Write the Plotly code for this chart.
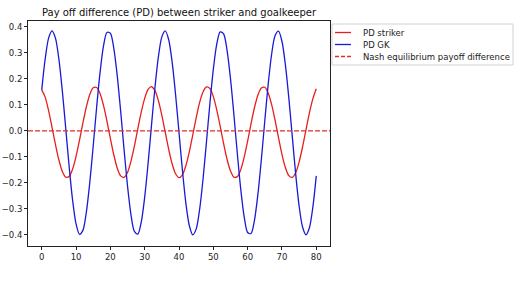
import plotly.graph_objects as go

# ---- data ----
steps = list(range(0, 81))

pd_striker = [
    0.158, 0.130, 0.078, 0.014, -0.052, -0.112, -0.156, -0.178, -0.175, -0.147,
    -0.098, -0.036, 0.031, 0.092, 0.140, 0.166, 0.167, 0.144, 0.098, 0.038,
    -0.029, -0.092, -0.143, -0.173, -0.179, -0.160, -0.117, -0.059, 0.008, 0.072,
    0.125, 0.160, 0.170, 0.155, 0.116, 0.060, -0.006, -0.071, -0.127, -0.165,
    -0.180, -0.169, -0.134, -0.081, -0.016, 0.050, 0.109, 0.150, 0.169, 0.163,
    0.132, 0.081, 0.018, -0.049, -0.109, -0.154, -0.178, -0.176, -0.149, -0.101,
    -0.039, 0.028, 0.090, 0.138, 0.165, 0.168, 0.145, 0.101, 0.041, -0.026,
    -0.090, -0.141, -0.172, -0.179, -0.161, -0.120, -0.062, 0.004, 0.069, 0.123,
    0.162,
]

pd_gk = [
    0.158, 0.276, 0.357, 0.385, 0.357, 0.276, 0.154, 0.009, -0.138, -0.267,
    -0.358, -0.398, -0.383, -0.313, -0.199, -0.058, 0.091, 0.225, 0.327, 0.379,
    0.376, 0.318, 0.213, 0.076, -0.073, -0.212, -0.322, -0.387, -0.397, -0.351,
    -0.255, -0.124, 0.024, 0.168, 0.286, 0.362, 0.385, 0.351, 0.265, 0.140,
    -0.006, -0.152, -0.278, -0.364, -0.400, -0.378, -0.303, -0.186, -0.043, 0.105,
    0.237, 0.334, 0.381, 0.373, 0.310, 0.201, 0.062, -0.088, -0.225, -0.331,
    -0.391, -0.395, -0.343, -0.243, -0.110, 0.039, 0.181, 0.296, 0.367, 0.384,
    0.345, 0.254, 0.127, -0.020, -0.166, -0.289, -0.370, -0.400, -0.373, -0.294,
    -0.173,
]

nash_value = 0.0

series_names = ["PD striker", "PD GK", "Nash equilibrium payoff difference"]
title_text = "Pay off difference (PD) between striker and goalkeeper"
x_ticks = [0, 10, 20, 30, 40, 50, 60, 70, 80]
y_ticks = [-0.4, -0.3, -0.2, -0.1, 0.0, 0.1, 0.2, 0.3, 0.4]

# ---- styles ----
RED = "rgb(232,30,30)"
BLUE = "rgb(25,25,215)"
NASH = "rgb(218,48,48)"
FONT = "DejaVu Sans"

W, H = 517, 282
ML, MR, MT, MB = 28, 187, 21, 36
PW = W - ML - MR
PH = H - MT - MB


def px_x(p):
    return (p - ML) / PW


def px_y(p):
    return (H - MB - p) / PH


fig = go.Figure()
fig.add_trace(go.Scatter(x=steps, y=pd_striker, mode="lines",
                         line=dict(color=RED, width=1.3, shape="spline",
                                   smoothing=0.8),
                         name=series_names[0], showlegend=False))
fig.add_trace(go.Scatter(x=steps, y=pd_gk, mode="lines",
                         line=dict(color=BLUE, width=1.3, shape="spline",
                                   smoothing=0.8),
                         name=series_names[1], showlegend=False))

# Nash equilibrium horizontal line spanning the full axes width
fig.add_shape(type="line", xref="paper", yref="y", x0=0, x1=1,
              y0=nash_value, y1=nash_value,
              line=dict(color=NASH, width=1.3, dash="5px,2px"))

# ---- manual legend (matplotlib style) ----
lg_left, lg_right, lg_top, lg_bottom = 332, 513, 24, 65
fig.add_shape(type="rect", xref="paper", yref="paper",
              x0=px_x(lg_left), x1=px_x(lg_right),
              y0=px_y(lg_bottom), y1=px_y(lg_top),
              line=dict(color="rgb(210,210,210)", width=1),
              fillcolor="rgba(255,255,255,0.8)", layer="above")
rows = [32.5, 44.5, 56.5]
styles = [(RED, "solid"), (BLUE, "solid"), (NASH, "4px,2px")]
for name, ry, (col, dash) in zip(series_names, rows, styles):
    fig.add_shape(type="line", xref="paper", yref="paper",
                  x0=px_x(335), x1=px_x(351), y0=px_y(ry), y1=px_y(ry),
                  line=dict(color=col, width=1.3, dash=dash), layer="above")
    fig.add_annotation(xref="paper", yref="paper", x=px_x(361), y=px_y(ry),
                       text=name, showarrow=False, xanchor="left",
                       yanchor="middle",
                       font=dict(family=FONT, size=8.5, color="#222"))

fig.update_layout(
    width=W, height=H,
    margin=dict(l=ML, r=MR, t=MT, b=MB, pad=0, autoexpand=False),
    paper_bgcolor="white", plot_bgcolor="white",
    showlegend=False,
    title=dict(text=title_text, x=(0.5 * PW + ML) / W, xanchor="center",
               y=1 - 12 / H, yanchor="middle", xref="container",
               font=dict(family=FONT, size=10, color="#111")),
    font=dict(family=FONT, size=8.5, color="#222"),
)
fig.update_xaxes(range=[-4, 84], tickmode="array", tickvals=x_ticks,
                 automargin=False,
                 showgrid=False, zeroline=False, showline=True, mirror=True,
                 linecolor="#222", linewidth=1, ticks="outside", ticklen=3,
                 tickcolor="#222", tickwidth=1,
                 tickfont=dict(family=FONT, size=8.5, color="#222"))
fig.update_yaxes(range=[-0.443, 0.423], tickmode="array", tickvals=y_ticks,
                 tickformat=".1f", automargin=False,
                 showgrid=False, zeroline=False, showline=True, mirror=True,
                 linecolor="#222", linewidth=1, ticks="outside", ticklen=3,
                 tickcolor="#222", tickwidth=1,
                 tickfont=dict(family=FONT, size=8.5, color="#222"))

fig.write_html(
    "out.html",
    config={"displayModeBar": False},
    post_script="document.body.style.margin='0';document.body.style.padding='0';",
)
